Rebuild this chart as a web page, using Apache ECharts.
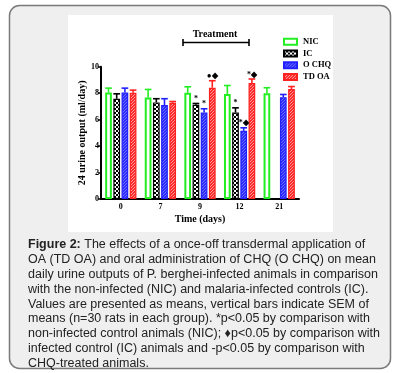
<!DOCTYPE html>
<html><head><meta charset="utf-8">
<script src="https://cdn.jsdelivr.net/npm/echarts@6/dist/echarts.min.js"></script>
<style>html,body{margin:0;padding:0;background:#fff}#c{width:397px;height:373px}</style>
</head><body><div id="c"></div>
<script>
const categories = ['0', '7', '9', '12', '21'];
const seriesNames = ['NIC', 'IC', 'O CHQ', 'TD OA'];
const nic = [8.05, 7.68, 8.03, 7.93, 8.0];
const nicSem = [0.33, 0.6, 0.45, 0.65, 0.41];
const ic = [7.58, 7.3, 7.12, 6.54, null];
const icSem = [0.37, 0.28, 0.1, 0.35, null];
const ochq = [8.05, 7.1, 6.54, 5.15, 7.7];
const ochqSem = [0.33, 0.48, 0.28, 0.23, 0.2];
const tdoa = [8.03, 7.27, 8.41, 8.76, 8.31];
const tdoaSem = [0.2, 0.1, 0.53, 0.31, 0.19];
const nicSig = ['', '', '', '', ''];
const icSig = ['', '', '*', '*', ''];
const ochqSig = ['', '', '*', '*\u25C6', ''];
const tdoaSig = ['', '', '\u25CF\u25C6', '*\u25C6', ''];
const yTicks = [0, 2, 4, 6, 8, 10];
const captionLines = [
  'The effects of a once-off transdermal application of',
  'OA (TD OA) and oral administration of CHQ (O CHQ) on mean',
  'daily urine outputs of P. berghei-infected animals in comparison',
  'with the non-infected (NIC) and malaria-infected controls (IC).',
  'Values are presented as means, vertical bars indicate SEM of',
  'means (n=30 rats in each group). *p<0.05 by comparison with',
  'non-infected control animals (NIC); \u2666p<0.05 by comparison with',
  'infected control (IC) animals and -p<0.05 by comparison with',
  'CHQ-treated animals.'
];

function pattern(base, dot, size, cells) {
  const c = document.createElement('canvas');
  c.width = size; c.height = size;
  const g = c.getContext('2d');
  g.fillStyle = base; g.fillRect(0, 0, size, size);
  g.fillStyle = dot;
  cells.forEach(p => g.fillRect(p[0], p[1], p[2], p[3]));
  return {image: c, repeat: 'repeat'};
}
const icFill = pattern('#000000', '#ffffff', 4, [[0,0,2,2],[2,2,2,2]]);
const ochqFill = pattern('#2b2bff', '#6f6fff', 3, [[0,0,1,1],[2,1,1,1],[1,2,1,1]]);
const tdoaFill = pattern('#ff2a2a', '#ff9a9a', 3, [[0,0,1,1],[2,1,1,1],[1,2,1,1]]);

const serif = 'Liberation Serif';
const colors = ['#22ee22', '#000000', '#2020ff', '#ff2020'];
const values = [nic, ic, ochq, tdoa];
const sems = [nicSem, icSem, ochqSem, tdoaSem];
const sigs = [nicSig, icSig, ochqSig, tdoaSig];
const fills = ['#ffffff', icFill, ochqFill, tdoaFill];
const BAR_GAP = '22%', CAT_GAP = '21%';

const series = [];
seriesNames.forEach((name, i) => {
  series.push({
    name: name, type: 'bar', data: values[i],
    barGap: BAR_GAP, barCategoryGap: CAT_GAP,
    itemStyle: {color: fills[i], borderColor: colors[i], borderWidth: i === 0 ? 2 : 1.2},
    emphasis: {disabled: true}, z: 2
  });
});
seriesNames.forEach((name, i) => {
  const data = [];
  values[i].forEach((v, k) => { if (v != null) data.push([k, v, sems[i][k], sigs[i][k]]); });
  series.push({
    type: 'custom', data: data, z: 3, silent: true,
    renderItem: function (params, api) {
      const lay = api.barLayout({count: 4, barGap: BAR_GAP, barCategoryGap: CAT_GAP})[i];
      const x = api.value(0), v = api.value(1), s = api.value(2);
      const sig = data[params.dataIndex][3];
      const p0 = api.coord([x, v]);
      const p1 = api.coord([x, v + s]);
      const cx = p0[0] + lay.offsetCenter;
      const hw = lay.width / 2;
      const st = {stroke: colors[i], lineWidth: 1.6};
      const children = [
        {type: 'line', shape: {x1: cx, y1: p0[1], x2: cx, y2: p1[1]}, style: st},
        {type: 'line', shape: {x1: cx - hw, y1: p1[1], x2: cx + hw, y2: p1[1]}, style: st}
      ];
      if (sig) {
        children.push({type: 'text', x: cx, y: p1[1] - 0.5,
          style: {text: sig, align: 'center', verticalAlign: 'bottom', fill: '#000',
            font: 'bold 8px ' + serif}});
      }
      return {type: 'group', children: children};
    }
  });
});

const captionGraphics = captionLines.map((t, k) => ({
  type: 'text', left: 28, top: 238 + k * 14.9, z: 5,
  style: k === 0
    ? {text: '{b|Figure 2:} ' + t, rich: {b: {fontWeight: 'bold', fontFamily: 'Liberation Sans', fontSize: 12.5, fill: '#222'}},
       font: '12.5px Liberation Sans', fill: '#222'}
    : {text: t, font: '12.5px Liberation Sans', fill: '#222'}
}));

const chart = echarts.init(document.getElementById('c'), null, {renderer: 'canvas'});
chart.setOption({
  animation: false,
  backgroundColor: '#ffffff',
  graphic: [
    {type: 'rect', z: -20, shape: {x: 9.5, y: 5.5, width: 381, height: 363, r: 10},
     style: {fill: '#efefef', stroke: '#7a7a7a', lineWidth: 1.5}},
    {type: 'rect', z: -19, shape: {x: 68, y: 15, width: 265, height: 217},
     style: {fill: '#ffffff'}},
    {type: 'line', z: 5, shape: {x1: 183, y1: 42.5, x2: 249, y2: 42.5}, style: {stroke: '#000', lineWidth: 1.6}},
    {type: 'line', z: 5, shape: {x1: 183, y1: 39, x2: 183, y2: 46}, style: {stroke: '#000', lineWidth: 1.6}},
    {type: 'line', z: 5, shape: {x1: 249, y1: 39, x2: 249, y2: 46}, style: {stroke: '#000', lineWidth: 1.6}},
    {type: 'text', z: 5, x: 215, y: 34, style: {text: 'Treatment', align: 'center', verticalAlign: 'middle',
      font: 'bold 10px ' + serif, fill: '#000'}}
  ].concat(captionGraphics),
  legend: {
    orient: 'vertical', left: 278, top: 31, itemWidth: 13, itemHeight: 6, itemGap: 0,
    icon: 'rect', selectedMode: false,
    data: seriesNames,
    textStyle: {fontFamily: serif, fontWeight: 'bold', fontSize: 8.5, color: '#000', lineHeight: 11.7, padding: [0, 0, 0, 1]}
  },
  grid: {left: 101, right: 98, top: 66.7, bottom: 174, containLabel: false},
  xAxis: {
    type: 'category', data: categories,
    name: 'Time (days)', nameLocation: 'middle', nameGap: 15,
    nameTextStyle: {fontFamily: serif, fontWeight: 'bold', fontSize: 10, color: '#000'},
    axisLine: {lineStyle: {color: '#000', width: 2}},
    axisTick: {alignWithLabel: true, length: 3, lineStyle: {color: '#000', width: 1.5}},
    axisLabel: {fontFamily: serif, fontWeight: 'bold', fontSize: 8, color: '#000', margin: 4},
    splitLine: {show: false}
  },
  yAxis: {
    type: 'value', min: 0, max: 10, interval: 2,
    name: '24 urine output (ml/day)', nameLocation: 'middle', nameGap: 12, nameRotate: 90,
    nameTextStyle: {fontFamily: serif, fontWeight: 'bold', fontSize: 10, color: '#000'},
    axisLine: {show: true, lineStyle: {color: '#000', width: 2}},
    axisTick: {show: true, length: 3, lineStyle: {color: '#000', width: 1.5}},
    axisLabel: {fontFamily: serif, fontWeight: 'bold', fontSize: 8, color: '#000', margin: 2,
      formatter: v => yTicks.indexOf(v) >= 0 ? String(v) : ''},
    splitLine: {show: false}
  },
  series: series
});
</script></body></html>
